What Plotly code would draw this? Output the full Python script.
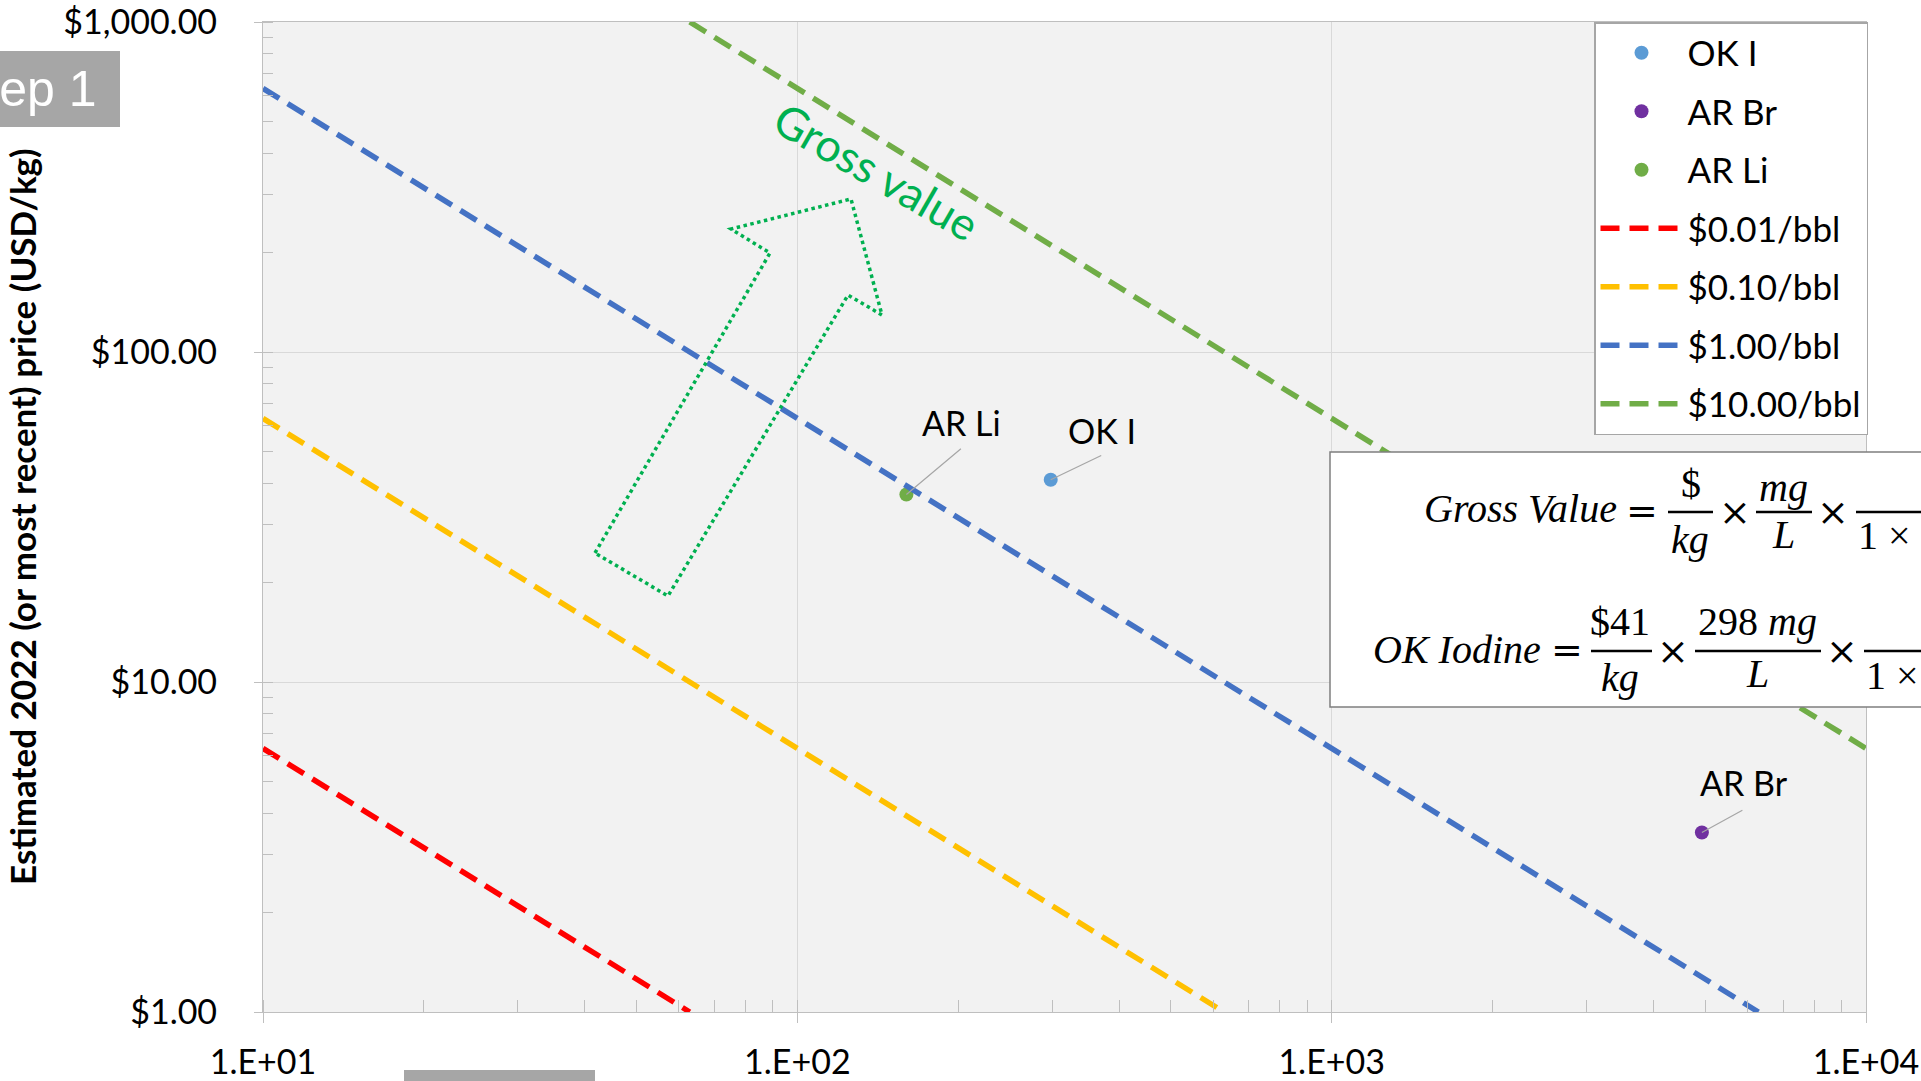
import math
import plotly.graph_objects as go

# ---------------- data ----------------
point_names = ["OK I", "AR Br", "AR Li"]
conc_mg_L = [298, 4930, 160]
price_usd_kg = [41, 3.5, 37]
point_colors = ["#5B9BD5", "#7030A0", "#70AD47"]

line_names = ["$0.01/bbl", "$0.10/bbl", "$1.00/bbl", "$10.00/bbl"]
line_x = [[10, 62.9], [10, 629], [10, 6290], [62.9, 10000]]
line_y = [[6.29, 1], [62.9, 1], [629, 1], [1000, 6.29]]
line_colors = ["#FF0000", "#FFC000", "#4472C4", "#70AD47"]

x_tickvals = [10, 100, 1000, 10000]
x_ticktext = ["1.E+01", "1.E+02", "1.E+03", "1.E+04"]
y_tickvals = [1, 10, 100, 1000]
y_ticktext = ["$1.00", "$10.00", "$100.00", "$1,000.00"]

y_title = "Estimated 2022 (or most recent) price (USD/kg)"

# ---------------- geometry ----------------
W, H = 1921, 1081
L, R, T, B = 263, 1866, 22, 1012
PW, PH = R - L, B - T


def px(xp):
    return (xp - L) / PW


def py(yp):
    return 1 - (yp - T) / PH


FONT = "Lato"
TXT = "#000000"

fig = go.Figure()

for i, nm in enumerate(point_names):
    fig.add_trace(go.Scatter(
        x=[conc_mg_L[i]], y=[price_usd_kg[i]], mode="markers", name=nm,
        marker=dict(color=point_colors[i], size=14),
        legendgroup=nm, cliponaxis=False))

for i, nm in enumerate(line_names):
    fig.add_trace(go.Scatter(
        x=line_x[i], y=line_y[i], mode="lines", name=nm,
        line=dict(color=line_colors[i], width=5.5, dash="19px,10px"),
        legendgroup=nm))

shapes = []
annotations = []

# data labels with leader lines
label_info = {
    "OK I": (52, -25, 51, 49),
    "AR Br": (42, -23, 42, 50),
    "AR Li": (56, -47, 55, 72),
}
for i, nm in enumerate(point_names):
    axo, ayo, xs, ys = label_info[nm]
    xv = math.log10(conc_mg_L[i])
    yv = math.log10(price_usd_kg[i])
    annotations.append(dict(x=xv, y=yv, xref="x", yref="y", text="",
                            showarrow=True, arrowhead=0, arrowwidth=1.2,
                            arrowcolor="#A6A6A6", ax=axo, ay=ayo, standoff=0))
    annotations.append(dict(x=xv, y=yv, xref="x", yref="y", text=nm,
                            showarrow=False, xshift=xs, yshift=ys,
                            xanchor="center", yanchor="middle",
                            font=dict(family=FONT, size=34, color=TXT)))

# y-axis title
annotations.append(dict(x=px(22), y=py(517), xref="paper", yref="paper",
                        text="<b>" + y_title + "</b>", textangle=-90,
                        showarrow=False, xanchor="center", yanchor="middle",
                        font=dict(family=FONT, size=35, color=TXT)))

# "Gross value" rotated text
annotations.append(dict(x=px(876), y=py(171), xref="paper", yref="paper",
                        text="Gross value", textangle=30, showarrow=False,
                        xanchor="center", yanchor="middle",
                        font=dict(family=FONT, size=45, color="#00B050")))

# dotted block arrow
arrow_pts = [(595, 553), (770, 253), (731, 229), (851, 199),
             (882, 315), (848, 295), (668, 596)]
path = "M " + " L ".join(f"{px(a):.5f},{py(b):.5f}" for a, b in arrow_pts) + " Z"
shapes.append(dict(type="path", path=path, xref="paper", yref="paper",
                   line=dict(color="#00B050", width=3.5, dash="dot"),
                   layer="above"))

# "Step 1" tag (cut off at left)
shapes.append(dict(type="rect", xref="paper", yref="paper",
                   x0=px(-5), x1=px(120), y0=py(127), y1=py(51),
                   fillcolor="#A6A6A6", line=dict(width=0), layer="above"))
annotations.append(dict(x=px(99), y=py(89), xref="paper", yref="paper",
                        text="Step 1", showarrow=False, xanchor="right",
                        yanchor="middle",
                        font=dict(family="Liberation Sans", size=50,
                                  color="white")))

# bottom gray bar (cut off)
shapes.append(dict(type="rect", xref="paper", yref="paper",
                   x0=px(404), x1=px(595), y0=py(1090), y1=py(1070),
                   fillcolor="#A6A6A6", line=dict(width=0), layer="above"))

# equation box
shapes.append(dict(type="rect", xref="paper", yref="paper",
                   x0=px(1330), x1=px(1990), y0=py(707), y1=py(452),
                   fillcolor="white", line=dict(color="#7F7F7F", width=1.5),
                   layer="above"))

EQF = dict(family="Liberation Serif", size=40, color="black")
OPF = dict(family="DejaVu Serif", size=38, color="black")


def eq_text(t, x, y, anchor="center", font=EQF):
    annotations.append(dict(x=px(x), y=py(y), xref="paper", yref="paper",
                            text=t, showarrow=False, xanchor=anchor,
                            yanchor="middle", font=font))


def bar(x0, x1, y):
    shapes.append(dict(type="line", xref="paper", yref="paper",
                       x0=px(x0), x1=px(x1), y0=py(y), y1=py(y),
                       line=dict(color="black", width=2.5), layer="above"))


# line 1
eq_text("<i>Gross Value</i>", 1619, 509, "right")
eq_text("=", 1642, 511, font=OPF)
eq_text("$", 1691, 483)
bar(1668, 1713, 512)
eq_text("<i>kg</i>", 1690, 539)
eq_text("×", 1735, 512, font=OPF)
eq_text("<i>mg</i>", 1783, 488)
bar(1756, 1812, 512)
eq_text("<i>L</i>", 1783, 534)
eq_text("×", 1833, 512, font=OPF)
bar(1856, 1930, 512)
eq_text("1 ×", 1856, 535, "left")

# line 2
eq_text("<i>OK Iodine</i>", 1543, 649, "right")
eq_text("=", 1567, 650, font=OPF)
eq_text("$41", 1620, 621)
bar(1591, 1652, 651)
eq_text("<i>kg</i>", 1620, 677)
eq_text("×", 1673, 651, font=OPF)
eq_text("298 <i>mg</i>", 1757, 621)
bar(1695, 1821, 651)
eq_text("<i>L</i>", 1757, 673)
eq_text("×", 1842, 651, font=OPF)
bar(1864, 1930, 651)
eq_text("1 ×", 1864, 675, "left")

axis_common = dict(
    type="log", showgrid=True, gridcolor="#D9D9D9", gridwidth=1,
    showline=True, linecolor="#BFBFBF", linewidth=1.2, mirror=True,
    ticks="outside", tickcolor="#BFBFBF", tickwidth=1.2,
    tickfont=dict(family=FONT, size=34, color=TXT),
    zeroline=False, automargin=False, ticklabeloverflow="allow",
)

fig.update_xaxes(**axis_common, range=[1, 4], tickvals=x_tickvals,
                 ticktext=x_ticktext, ticklen=10, ticklabelstandoff=10,
                 minor=dict(ticks="inside", ticklen=12, tickcolor="#BFBFBF",
                            tickwidth=1.2, showgrid=False, dtick="D1"))
fig.update_yaxes(**axis_common, range=[0, 3], tickvals=y_tickvals,
                 ticktext=y_ticktext, ticklen=8, ticklabelstandoff=30,
                 minor=dict(ticks="inside", ticklen=10, tickcolor="#BFBFBF",
                            tickwidth=1.2, showgrid=False, dtick="D1"))

fig.update_layout(
    width=W, height=H,
    margin=dict(l=L, r=W - R, t=T, b=H - B, pad=0, autoexpand=False),
    paper_bgcolor="white", plot_bgcolor="#F2F2F2",
    showlegend=True,
    legend=dict(x=px(1594), y=1, xanchor="left", yanchor="top",
                bgcolor="white", bordercolor="#A6A6A6", borderwidth=1.5,
                font=dict(family=FONT, size=35, color=TXT),
                itemwidth=82, tracegroupgap=10, traceorder="grouped"),
    shapes=shapes, annotations=annotations,
)

fig.write_html("out.html", config={"displayModeBar": False},
               post_script="document.body.style.margin='0';document.body.style.overflow='hidden';")
